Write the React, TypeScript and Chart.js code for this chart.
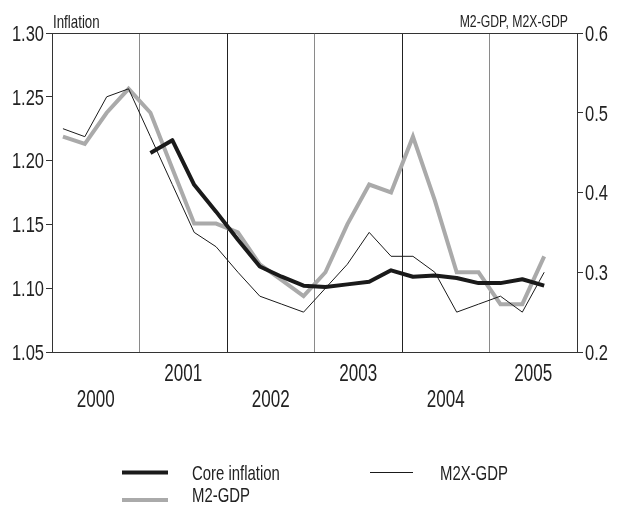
import React, { useEffect, useRef } from "react";
import { Chart, registerables } from "chart.js";

Chart.register(...registerables);

const quarters = [
  "2000Q1","2000Q2","2000Q3","2000Q4",
  "2001Q1","2001Q2","2001Q3","2001Q4",
  "2002Q1","2002Q2","2002Q3","2002Q4",
  "2003Q1","2003Q2","2003Q3","2003Q4",
  "2004Q1","2004Q2","2004Q3","2004Q4",
  "2005Q1","2005Q2","2005Q3","2005Q4",
];
const years = ["2000", "2001", "2002", "2003", "2004", "2005"];

const coreInflation = [null, null, null, null, 1.206, 1.216, 1.181, 1.16, 1.138, 1.117, 1.109, 1.102, 1.101, 1.103, 1.105, 1.114, 1.109, 1.11, 1.108, 1.104, 1.104, 1.107, 1.102, null];
const m2Gdp = [0.47, 0.461, 0.5, 0.53, 0.5, 0.43, 0.361, 0.361, 0.35, 0.31, 0.29, 0.27, 0.3, 0.36, 0.41, 0.4, 0.47, 0.39, 0.3, 0.3, 0.26, 0.26, 0.32, null];
const m2xGdp = [0.48, 0.47, 0.52, 0.53, 0.47, 0.41, 0.35, 0.332, 0.3, 0.27, 0.26, 0.25, 0.28, 0.31, 0.35, 0.32, 0.32, 0.3, 0.25, 0.26, 0.27, 0.25, 0.3, null];

const leftTicks = [1.05, 1.1, 1.15, 1.2, 1.25, 1.3];
const rightTicks = [0.2, 0.3, 0.4, 0.5, 0.6];

const leftTitle = "Inflation";
const rightTitle = "M2-GDP, M2X-GDP";
const seriesNames = ["Core inflation", "M2X-GDP", "M2-GDP"];

const FONT = '"Liberation Sans", Arimo, Arial, sans-serif';
const TXT = "#222";

const toPts = (arr: (number | null)[]) => arr.map((v, i) => ({ x: i + 0.5, y: v }));

// condensed text: draw with horizontal scaling
function txt(ctx: any, s: string, x: number, y: number, align: "left" | "right" | "center", size: number, sx: number) {
  ctx.save();
  ctx.translate(x, y);
  ctx.scale(sx, 1);
  ctx.font = `${size}px ${FONT}`;
  ctx.textAlign = align;
  ctx.textBaseline = "alphabetic";
  ctx.fillStyle = TXT;
  ctx.fillText(s, 0, 0);
  ctx.restore();
}

const decorPlugin = {
  id: "decor",
  afterDraw(chart: any) {
    const { ctx, chartArea, scales } = chart;
    ctx.save();
    // top border
    ctx.strokeStyle = "#333";
    ctx.lineWidth = 1;
    ctx.beginPath();
    ctx.moveTo(chartArea.left, chartArea.top + 0.5);
    ctx.lineTo(chartArea.right, chartArea.top + 0.5);
    ctx.stroke();

    // left ticks
    const TS = 22;
    const half = (0.716 * TS) / 2;
    leftTicks.forEach((v) => {
      const y = scales.y.getPixelForValue(v);
      txt(ctx, v.toFixed(2), 44, y + half, "right", TS, 0.75);
    });
    rightTicks.forEach((v) => {
      const y = scales.y1.getPixelForValue(v);
      txt(ctx, v.toFixed(1), 585, y + half, "left", TS, 0.75);
    });
    // year labels (alternating rows)
    const YS = 24;
    years.forEach((yr, k) => {
      const x = scales.x.getPixelForValue(4 * k + 2);
      const base = k % 2 === 0 ? 406.5 : 380.5;
      txt(ctx, yr, x, base, "center", YS, 0.71);
    });
    // axis titles
    txt(ctx, leftTitle, 53, 28, "left", 18.5, 0.72);
    txt(ctx, rightTitle, 568, 27, "right", 16.5, 0.74);

    // legend
    const items = [
      { label: seriesNames[0], color: "#1a1a1a", w: 4, x1: 122, x2: 168, y: 472.5, tx: 192, ty: 480 },
      { label: seriesNames[2], color: "#aaaaaa", w: 4, x1: 122, x2: 168, y: 500, tx: 192, ty: 501.5 },
      { label: seriesNames[1], color: "#1a1a1a", w: 1, x1: 370, x2: 413, y: 472.5, tx: 440, ty: 480 },
    ];
    items.forEach((it) => {
      ctx.strokeStyle = it.color;
      ctx.lineWidth = it.w;
      ctx.beginPath();
      ctx.moveTo(it.x1, it.y);
      ctx.lineTo(it.x2, it.y);
      ctx.stroke();
      txt(ctx, it.label, it.tx, it.ty, "left", 21, 0.71);
    });
    ctx.restore();
  },
};

export default function App() {
  const ref = useRef<HTMLCanvasElement | null>(null);
  useEffect(() => {
    if (!ref.current) return;
    const chart = new Chart(ref.current, {
      type: "line",
      data: {
        labels: quarters,
        datasets: [
          {
            label: seriesNames[0],
            data: toPts(coreInflation) as any,
            yAxisID: "y",
            borderColor: "#1a1a1a",
            borderWidth: 4,
            pointRadius: 0,
            tension: 0,
            borderJoinStyle: "round",
          },
          {
            label: seriesNames[1],
            data: toPts(m2xGdp) as any,
            yAxisID: "y1",
            borderColor: "#1a1a1a",
            borderWidth: 1,
            pointRadius: 0,
            tension: 0,
          },
          {
            label: seriesNames[2],
            data: toPts(m2Gdp) as any,
            yAxisID: "y1",
            borderColor: "#aaaaaa",
            borderWidth: 4,
            pointRadius: 0,
            tension: 0,
          },
        ],
      },
      options: {
        responsive: false,
        animation: false,
        layout: { padding: { top: 33, left: 0, right: 0, bottom: 0 } },
        plugins: { legend: { display: false }, tooltip: { enabled: false } },
        scales: {
          x: {
            type: "linear",
            min: 0,
            max: quarters.length,
            afterBuildTicks: (scale: any) => {
              const t: any[] = [];
              for (let v = 4; v < quarters.length; v += 4) t.push({ value: v });
              scale.ticks = t;
            },
            afterFit: (scale: any) => {
              scale.height = 160;
            },
            ticks: { display: false },
            grid: {
              drawTicks: false,
              lineWidth: 1,
              color: (c: any) => {
                const v = c.tick ? c.tick.value : -1;
                if (v % 4 !== 0 || v <= 0 || v >= quarters.length) return "rgba(0,0,0,0)";
                return (v / 4) % 2 === 1 ? "#8a8a8a" : "#222";
              },
            },
            border: { display: true, color: "#333", width: 1 },
          },
          y: {
            position: "left",
            min: 1.05,
            max: 1.3,
            afterBuildTicks: (scale: any) => {
              scale.ticks = leftTicks.map((v) => ({ value: v }));
            },
            afterFit: (scale: any) => {
              scale.width = 52;
            },
            ticks: { display: false },
            grid: { drawOnChartArea: false, drawTicks: true, tickLength: 6, color: "#333" },
            border: { display: true, color: "#333", width: 1 },
          },
          y1: {
            position: "right",
            min: 0.2,
            max: 0.6,
            afterBuildTicks: (scale: any) => {
              scale.ticks = rightTicks.map((v) => ({ value: v }));
            },
            afterFit: (scale: any) => {
              scale.width = 41;
            },
            ticks: { display: false },
            grid: { drawOnChartArea: false, drawTicks: true, tickLength: 6, color: "#333" },
            border: { display: true, color: "#333", width: 1 },
          },
        },
      } as any,
      plugins: [decorPlugin],
    });
    return () => chart.destroy();
  }, []);
  return (
    <div style={{ position: "absolute", left: 0, top: 0, width: 618, height: 512, background: "#fff" }}>
      <canvas ref={ref} width={618} height={512} />
    </div>
  );
}
